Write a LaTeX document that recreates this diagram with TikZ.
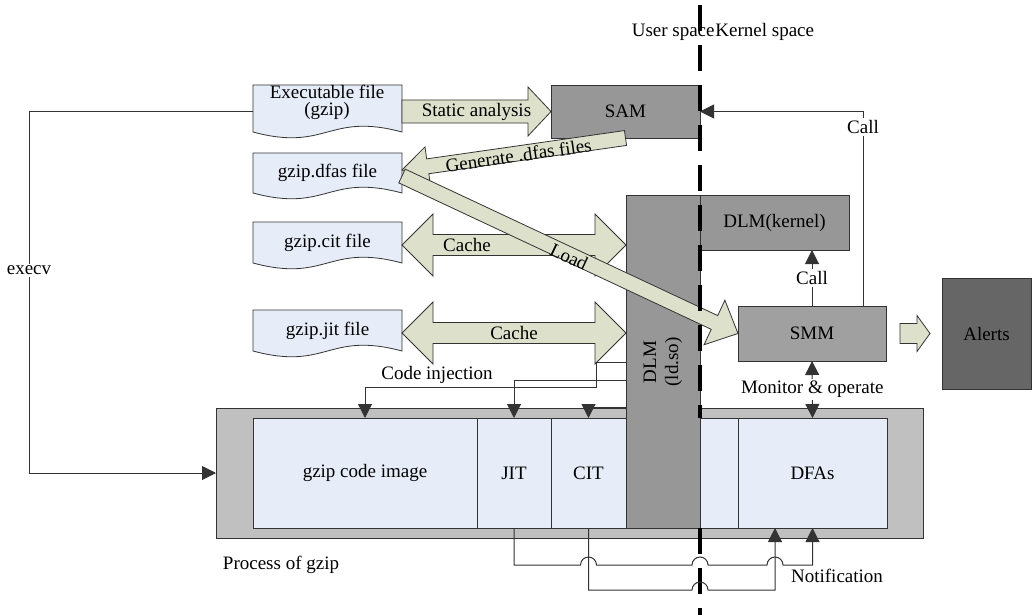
\documentclass[tikz,border=0pt]{standalone}
\usepackage{fontspec}
\setmainfont{Liberation Serif}
\definecolor{filebg}{HTML}{E6EDF8}
\definecolor{flowbg}{HTML}{DDE1CB}
\definecolor{modgray}{HTML}{979797}
\definecolor{smmgray}{HTML}{A0A0A0}
\definecolor{alertgray}{HTML}{666666}
\definecolor{procgray}{HTML}{C0C0C0}
\definecolor{inkgray}{HTML}{333333}
\usetikzlibrary{arrows.meta,calc,backgrounds}

% block arrow: from, to, shaft half width, head half width, head length
\newcommand{\fatarrow}[5]{%
  \coordinate (fa-b) at ($(#2)!#5!(#1)$);
  \draw[fat] ($(#1)!#3!90:(#2)$) -- ($(fa-b)!#3!90:(#2)$) -- ($(fa-b)!#4!90:(#2)$) -- (#2)
    -- ($(fa-b)!#4!-90:(#2)$) -- ($(fa-b)!#3!-90:(#2)$) -- ($(#1)!#3!-90:(#2)$) -- cycle;}
% same, with a head at both ends
\newcommand{\fatdarrow}[5]{%
  \coordinate (fa-a) at ($(#1)!#5!(#2)$);
  \coordinate (fa-b) at ($(#2)!#5!(#1)$);
  \draw[fat] (#1) -- ($(fa-a)!#4!90:(#2)$) -- ($(fa-a)!#3!90:(#2)$) -- ($(fa-b)!#3!-90:(#1)$)
    -- ($(fa-b)!#4!-90:(#1)$) -- (#2) -- ($(fa-b)!#4!90:(#1)$) -- ($(fa-b)!#3!90:(#1)$)
    -- ($(fa-a)!#3!-90:(#2)$) -- ($(fa-a)!#4!-90:(#2)$) -- cycle;}

\begin{document}
\begin{tikzpicture}[x=0.5pt, y=-0.5pt,
  font=\fontsize{9.5}{11}\selectfont,
  box/.style={rectangle, draw=inkgray, inner sep=0pt, outer sep=0pt},
  mod/.style={box, fill=modgray, minimum width=74.5pt},
  cell/.style={box, fill=filebg, minimum height=55pt},
  doc/.style={rectangle, inner sep=0pt, outer sep=0pt, minimum width=74.5pt},
  docline/.style={draw=inkgray, fill=filebg},
  fat/.style={draw=inkgray, fill=flowbg, line join=miter},
  conn/.style={draw=inkgray, line width=0.5pt},
  lbl/.style={fill=white, inner sep=1pt},
  divider/.style={line width=1.8pt, dash pattern=on 13pt off 7pt},
  >={Triangle[width=7pt,length=7pt]}]
\useasboundingbox (0,0) rectangle (1032,615);

% process of gzip
\node[box, fill=procgray, minimum width=353.5pt, minimum height=65pt] (proc) at (569.5,473) {};
\node[cell, minimum width=112pt] (code) at (365,473) {gzip code image};
\node[cell, minimum width=37pt] (jit) at (514,473) {JIT};
\node[cell, minimum width=37.5pt] (cit) at (588.5,473) {CIT};
\node[cell, minimum width=19pt] (pad) at (719,473) {};
\node[cell, minimum width=74.5pt] (dfa) at (812.5,473) {DFAs};
\node[mod, minimum width=37pt, minimum height=166.5pt] (dlm) at (663,361.5) {};
\node[rotate=90, align=center] (dlmtext) at (663,362) {DLM\\(ld.so)};

% modules
\node[mod, minimum height=26.5pt] (sam) at (625.5,111.5) {SAM};
\node[mod, minimum height=27.5pt] (kdlm) at (774.5,222.5) {DLM(kernel)};
\node[box, fill=smmgray, minimum width=74pt, minimum height=27.5pt] (smm) at (812,333.5) {SMM};
\node[box, fill=alertgray, minimum width=44.5pt, minimum height=55.5pt] (alerts) at (986.5,333.5) {Alerts};

% files
\node[doc, minimum height=23.5pt] (fexe) at (327.5,108.5) {};
\node[align=center] (fexetext) at (327,102) {Executable file\\[-2.5pt](gzip)};
\node[doc, minimum height=20pt] (fdfas) at (327.5,173) {gzip.dfas file};
\node[doc, minimum height=20.5pt] (fcit) at (327.5,242.5) {gzip.cit file};
\node[doc, minimum height=20.5pt] (fjit) at (327.5,330.5) {gzip.jit file};
\begin{scope}[on background layer]
\foreach \n in {fexe,fdfas,fcit,fjit}
  \draw[docline] (\n.south west) -- (\n.north west) -- (\n.north east) -- (\n.south east)
    .. controls ($(\n.south)+(0,-20)$) and ($(\n.south)+(0,20)$) .. (\n.south west) -- cycle;
\end{scope}

% block arrows
\coordinate (sa) at (fexe.east |- sam.west);
\fatarrow{sa}{sam.west}{5.75pt}{12.25pt}{11.5pt}
\path (sa) -- node{Static analysis} (sam.west);

\coordinate (ca) at ($(fcit.east)+(0,2.5)$);
\coordinate (cb) at (dlm.west |- ca);
\fatdarrow{ca}{cb}{5.25pt}{15.5pt}{15.5pt}
\path (ca) -- node[pos=0.29]{Cache} (cb);

\coordinate (ja) at ($(fjit.east)+(0,2.5)$);
\coordinate (jb) at (dlm.west |- ja);
\fatdarrow{ja}{jb}{5.25pt}{15.5pt}{15.5pt}
\path (ja) -- node{Cache} (jb);

\coordinate (gb) at ($(fdfas.east)+(0,-3)$);
\fatarrow{sam.south}{gb}{3.75pt}{9.8pt}{13pt}
\path (sam.south) -- node[sloped, pos=0.48, yshift=-1pt]{Generate .dfas files} (gb);

\coordinate (la) at ($(fdfas.east)+(0,3)$);
\fatarrow{la}{smm.west}{3.8pt}{12.3pt}{13pt}
\path (la) -- node[sloped, yshift=-1pt]{Load} (smm.west);

\coordinate (aa) at ($(smm.east)+(14,0)$);
\coordinate (ab) at ($(alerts.west)+(-12,0)$);
\fatarrow{aa}{ab}{5pt}{9pt}{6.5pt}

% calls and control flow
\draw[conn, ->] ($(smm.north east)+(-23,0)$) |- node[lbl, pos=0.46]{Call} (sam.east);
\draw[conn, ->] (smm.north) -- node[lbl]{Call} (smm.north |- kdlm.south);
\draw[conn, <->] (smm.south) -- node[lbl]{Monitor \& operate} (dfa.north);
\draw[conn, ->] (fexe.west |- sam.west) -- ++(-224,0) |- node[lbl, pos=0.22]{execv} (proc.west);

% code injection from ld.so
\draw[conn, ->] ($(dlm.north west)+(0,167)$) -- ++(-30,0) -- ++(0,25) -| (code.north);
\draw[conn, ->] ($(dlm.north west)+(0,185)$) -| (jit.north);
\draw[conn, ->] ($(dlm.north west)+(0,212)$) -| (cit.north);
\node (inj) at (437,375) {Code injection};

% user/kernel boundary
\coordinate (divtop) at (700,5);
\coordinate (divbot) at (700,615);
\draw[divider] (divtop) -- (pad.north west);
\draw[divider] (pad.south west) -- (divbot);
\node[anchor=east, inner sep=0pt] (uspace) at ($(divtop)+(15,27)$) {User space};
\node[anchor=west, inner sep=0pt] (kspace) at ($(divtop)+(15,27)$) {Kernel space};

% notifications back to the DFAs
\coordinate (lane1) at (0,565);
\coordinate (lane2) at (0,590);
\coordinate (n1) at ($(dfa.south west)+(37,0)$);
\draw[conn, ->] (jit.south) -- (jit.south |- lane1)
  -- ($(cit.south |- lane1)+(-8,0)$) arc[start angle=180, end angle=0, radius=4pt]
  -- ($(divtop |- lane1)+(-8,0)$) arc[start angle=180, end angle=0, radius=4pt]
  -- ($(n1 |- lane1)+(-8,0)$) arc[start angle=180, end angle=0, radius=4pt]
  -- (dfa.south |- lane1) -- (dfa.south);
\draw[conn, ->] (cit.south) -- (cit.south |- lane2)
  -- ($(divtop |- lane2)+(-8,0)$) arc[start angle=180, end angle=0, radius=4pt]
  -- (n1 |- lane2) -- (n1);
\node (note) at (837,576) {Notification};

\node (plbl) at (281,565) {Process of gzip};
\end{tikzpicture}
\end{document}
